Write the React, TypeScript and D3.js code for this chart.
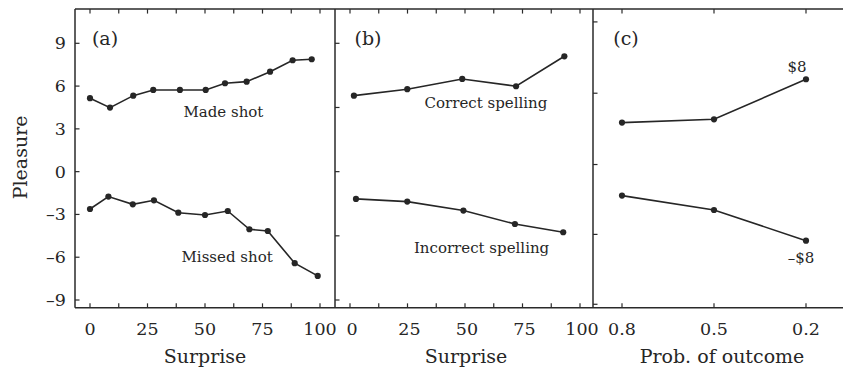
import React from "react";
import * as d3 from "d3";

// ---- data ----
const surpriseMade = [0, 8.7, 18.8, 27.5, 39.1, 50.3, 58.7, 68.1, 78.3, 88.1, 96.4];
const pleasureMade = [5.15, 4.49, 5.33, 5.73, 5.73, 5.73, 6.2, 6.31, 7.01, 7.81, 7.88];
const surpriseMissed = [0, 8.0, 18.6, 27.8, 38.4, 50, 59.9, 69.3, 77.3, 89.0, 99.0];
const pleasureMissed = [-2.62, -1.75, -2.29, -2.01, -2.88, -3.04, -2.76, -4.04, -4.16, -6.42, -7.31];

const surpriseCorrect = [1.7, 24.9, 48.8, 72.2, 93.2];
const pleasureCorrect = [5.33, 5.78, 6.5, 5.99, 8.09];
const surpriseIncorrect = [2.6, 24.9, 49.3, 71.7, 92.7];
const pleasureIncorrect = [-1.91, -2.1, -2.73, -3.67, -4.25];

const probOutcome = [0.8, 0.5, 0.2];
const pleasureWin = [3.44, 3.67, 6.48];
const pleasureLoss = [-1.68, -2.69, -4.84];

const yTickValues = [9, 6, 3, 0, -3, -6, -9];
const yTicksB = [9, 4.5, 0, -4.5, -9];
const yTicksC = [10.5, 5.5, 0.5, -4.4, -9.3];
const xTickLabelsSurprise = [0, 25, 50, 75, 100];
const xMinorSurprise = d3.range(0, 100.01, 12.5);
const xTicksProb = [0.8, 0.5, 0.2];

const FONT = "'DejaVu Serif', 'Liberation Serif', serif";
const INK = "#262626";

export default function App() {
  const W = 843, H = 370;
  const y = d3.scaleLinear().domain([-9, 9]).range([300, 43.3]);
  const yTopVal = 11.4, yBotVal = -9.55;
  const top = y(yTopVal), bot = y(yBotVal);
  const xa = d3.scaleLinear().domain([0, 100]).range([90, 320]);
  const xb = d3.scaleLinear().domain([0, 100]).range([350, 580]);
  const xc = d3.scaleLinear().domain([0.8, 0.2]).range([622, 806]);
  const leftA = 75, leftB = 335, leftC = 593, rightC = 851;

  const line = (xs: number[], ys: number[], sx: d3.ScaleLinear<number, number>) =>
    d3.line<number>().x((_, i) => sx(xs[i])).y((d) => y(d))(ys) || "";

  const series = [
    { xs: surpriseMade, ys: pleasureMade, sx: xa },
    { xs: surpriseMissed, ys: pleasureMissed, sx: xa },
    { xs: surpriseCorrect, ys: pleasureCorrect, sx: xb },
    { xs: surpriseIncorrect, ys: pleasureIncorrect, sx: xb },
    { xs: probOutcome, ys: pleasureWin, sx: xc },
    { xs: probOutcome, ys: pleasureLoss, sx: xc },
  ];

  const tl = 4.5;
  const frame = "#2a2a2a";

  return (
    <svg width={W} height={H} style={{ position: "absolute", left: 0, top: 0, background: "#fff" }}>
      <rect x={0} y={0} width={W} height={H} fill="#fff" />
      {/* frame */}
      <g stroke={frame} strokeWidth={1.5} fill="none">
        <line x1={leftA} x2={rightC} y1={top} y2={top} />
        <line x1={leftA} x2={rightC} y1={bot} y2={bot} />
        <line x1={leftA} x2={leftA} y1={top} y2={bot} />
        <line x1={leftB} x2={leftB} y1={top} y2={bot} />
        <line x1={leftC} x2={leftC} y1={top} y2={bot} />
        <line x1={rightC} x2={rightC} y1={top} y2={bot} />
      </g>
      {/* ticks */}
      <g stroke={frame} strokeWidth={1.2}>
        {yTickValues.map((v) => (
          <line key={"ya" + v} x1={leftA} x2={leftA + tl} y1={y(v)} y2={y(v)} />
        ))}
        {yTicksB.map((v) => (
          <line key={"yb" + v} x1={leftB} x2={leftB + tl} y1={y(v)} y2={y(v)} />
        ))}
        {yTicksC.map((v) => (
          <line key={"yc" + v} x1={leftC} x2={leftC + tl} y1={y(v)} y2={y(v)} />
        ))}
        {xMinorSurprise.map((v) => (
          <g key={"xa" + v}>
            <line x1={xa(v)} x2={xa(v)} y1={bot} y2={bot - tl} />
            <line x1={xa(v)} x2={xa(v)} y1={top} y2={top + tl} />
            <line x1={xb(v)} x2={xb(v)} y1={bot} y2={bot - tl} />
            <line x1={xb(v)} x2={xb(v)} y1={top} y2={top + tl} />
          </g>
        ))}
        {xTicksProb.map((v) => (
          <g key={"xc" + v}>
            <line x1={xc(v)} x2={xc(v)} y1={bot} y2={bot - tl} />
            <line x1={xc(v)} x2={xc(v)} y1={top} y2={top + tl} />
          </g>
        ))}
      </g>
      {/* tick labels */}
      <g fontFamily={FONT} fontSize={17.5} fill={INK}>
        {yTickValues.map((v) => (
          <text key={"yl" + v} x={leftA - 9} y={y(v)} textAnchor="end" dominantBaseline="central">
            {v < 0 ? "–" + Math.abs(v) : String(v)}
          </text>
        ))}
        {xTickLabelsSurprise.map((v) => (
          <text key={"xla" + v} x={xa(v)} y={335} textAnchor="middle">{v}</text>
        ))}
        {xTickLabelsSurprise.map((v) => (
          <text key={"xlb" + v} x={xb(v) + 2} y={335} textAnchor="middle">{v}</text>
        ))}
        {xTicksProb.map((v) => (
          <text key={"xlc" + v} x={xc(v)} y={335} textAnchor="middle">{v.toFixed(1)}</text>
        ))}
      </g>
      {/* axis titles */}
      <g fontFamily={FONT} fontSize={19} fill={INK}>
        <text x={(leftA + leftB) / 2} y={363} textAnchor="middle">Surprise</text>
        <text x={(leftB + leftC) / 2 + 2} y={363} textAnchor="middle">Surprise</text>
        <text x={722} y={363} textAnchor="middle">Prob. of outcome</text>
        <text transform={`translate(27, ${y(1)}) rotate(-90)`} textAnchor="middle">Pleasure</text>
      </g>
      {/* panel labels */}
      <g fontFamily={FONT} fontSize={19} fill={INK}>
        <text x={leftA + 30} y={38} textAnchor="middle" dominantBaseline="central">(a)</text>
        <text x={leftB + 33} y={38} textAnchor="middle" dominantBaseline="central">(b)</text>
        <text x={leftC + 33} y={38} textAnchor="middle" dominantBaseline="central">(c)</text>
      </g>
      {/* series */}
      {series.map((s, i) => (
        <g key={"s" + i}>
          <path d={line(s.xs, s.ys, s.sx)} fill="none" stroke={INK} strokeWidth={1.6} />
          {s.ys.map((v, j) => (
            <circle key={j} cx={s.sx(s.xs[j])} cy={y(v)} r={3.1} fill={INK} />
          ))}
        </g>
      ))}
      {/* annotations */}
      <g fontFamily={FONT} fontSize={15} fill={INK} dominantBaseline="central">
        <text x={xa(58)} y={y(4.2)} textAnchor="middle">Made shot</text>
        <text x={xa(59.6)} y={y(-5.98)} textAnchor="middle">Missed shot</text>
        <text x={xb(59.1)} y={y(4.82)} textAnchor="middle">Correct spelling</text>
        <text x={xb(57.2)} y={y(-5.35)} textAnchor="middle">Incorrect spelling</text>
        <text x={xc(0.229)} y={y(7.34)} textAnchor="middle">$8</text>
        <text x={xc(0.216)} y={y(-6.05)} textAnchor="middle">–$8</text>
      </g>
    </svg>
  );
}
